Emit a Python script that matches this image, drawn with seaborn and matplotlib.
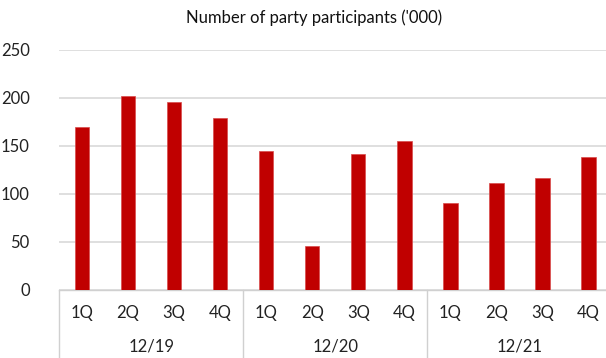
import matplotlib
matplotlib.use("Agg")
import matplotlib.pyplot as plt
import matplotlib.transforms as mtransforms
import seaborn as sns
import pandas as pd

years = ["12/19", "12/20", "12/21"]
quarters = ["1Q", "2Q", "3Q", "4Q"]
values = [170, 202, 196, 179, 145, 46, 142, 155, 91, 111, 117, 139]
yticks = [0, 50, 100, 150, 200, 250]
title = "Number of party participants ('000)"

keys = [f"{y} {q}" for y in years for q in quarters]
df = pd.DataFrame({"key": keys, "value": values})

sns.set_theme(style="white")
plt.rcParams["font.family"] = ["Lato", "DejaVu Sans"]

W, H = 606, 358
fig = plt.figure(figsize=(W / 100, H / 100), dpi=100)
left, right, bottom, top = 59, 606, 290, 50
ax = fig.add_axes([left / W, (H - bottom) / H, (right - left) / W, (bottom - top) / H])

sns.barplot(data=df, x="key", y="value", order=keys, color="#C00000",
            width=0.31, saturation=1, ax=ax, edgecolor="#D84A4A", linewidth=0.5, zorder=3)

cat_w = 46.05
ax.set_xlim(-0.5, -0.5 + (right - left) / cat_w)
ax.set_ylim(0, 250)
ax.set_yticks(yticks)
ax.set_yticklabels([str(t) for t in yticks], fontsize=12, color="#222222")
ax.tick_params(axis="y", length=0, pad=21)
ax.grid(axis="y", color="#D9D9D9", linewidth=1.2, zorder=0)
ax.set_axisbelow(True)
for s in ["left", "right", "top"]:
    ax.spines[s].set_visible(False)
ax.spines["bottom"].set_color("#D0D0D0")
ax.spines["bottom"].set_linewidth(1.0)
ax.set_xlabel("")
ax.set_ylabel("")
ax.set_xticks([])

trans = mtransforms.blended_transform_factory(ax.transData, fig.transFigure)
for i, k in enumerate(keys):
    ax.text(i, (H - 313) / H, quarters[i % 4], transform=trans, ha="center", va="center",
            fontsize=12, color="#222222")
for j, y in enumerate(years):
    ax.text(j * 4 + 1.5, (H - 347) / H, y, transform=trans, ha="center", va="center",
            fontsize=12, color="#222222")
for xs in [-0.5, 3.5, 7.5]:
    ax.plot([xs, xs], [(H - bottom) / H, 0], transform=trans, color="#D0D0D0",
            linewidth=1.0, clip_on=False)

fig.text(314 / W, (H - 18) / H, title, ha="center", va="center", fontsize=12, color="#111111")

fig.savefig("out.png", dpi=100, facecolor="white")
